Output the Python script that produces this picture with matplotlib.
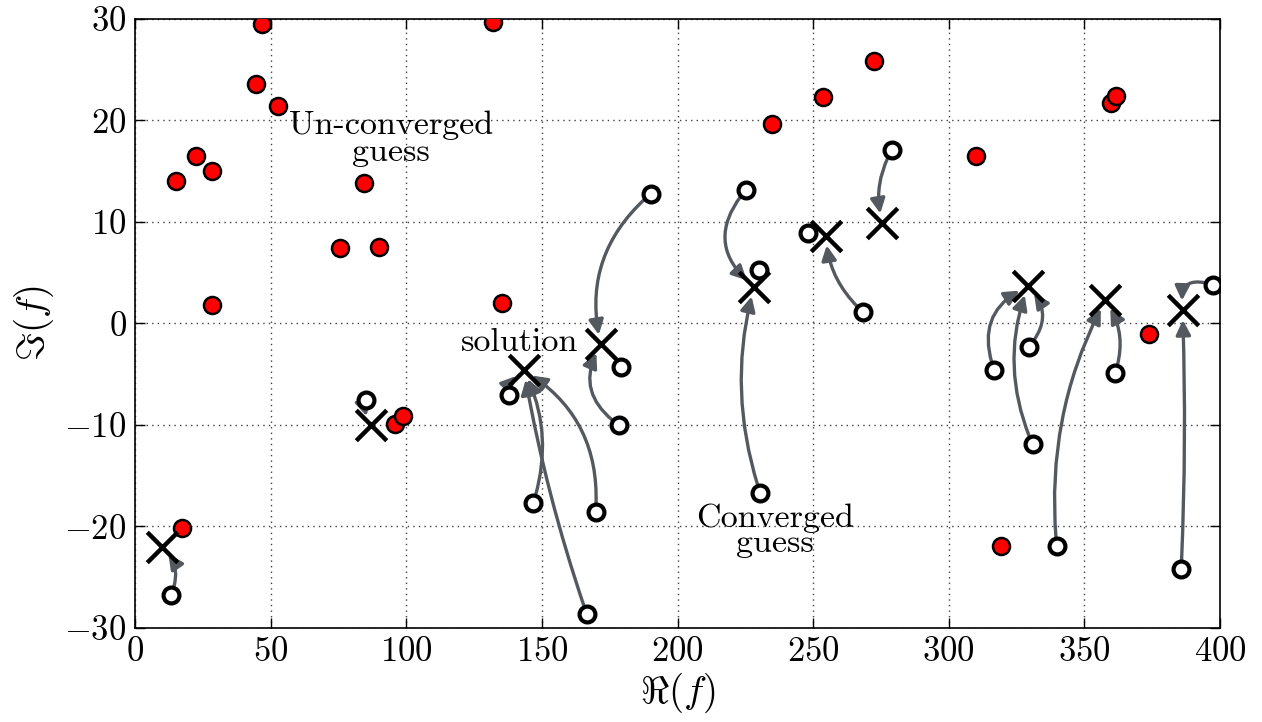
import matplotlib
matplotlib.use('Agg')
import matplotlib.pyplot as plt

plt.rcParams['font.family'] = ['cmr10', 'DejaVu Serif']
plt.rcParams['mathtext.fontset'] = 'cm'
plt.rcParams['axes.formatter.use_mathtext'] = True

# un-converged guesses (red)
unconv_re = [46.7, 44.6, 52.6, 22.5, 28.3, 15.1, 84.4, 75.6, 90.1, 28.5, 132.1, 135.2,
             17.2, 95.9, 98.7, 272.3, 253.6, 234.9, 310.1, 360.0, 361.5, 373.9, 319.1]
unconv_im = [29.5, 23.6, 21.4, 16.5, 15.0, 14.0, 13.8, 7.4, 7.5, 1.8, 29.7, 2.0,
             -20.1, -9.9, -9.1, 25.9, 22.3, 19.7, 16.5, 21.7, 22.4, -1.0, -21.9]

# converged guesses (open circles)
conv_re = [13.2, 85.2, 138.0, 146.8, 166.5, 169.8, 178.3, 190.2, 179.0,
           225.3, 230.5, 230.2, 248.2, 268.5, 279.0,
           316.8, 330.9, 329.5, 339.8, 361.3, 385.7, 397.5]
conv_im = [-26.75, -7.5, -7.0, -17.7, -28.6, -18.6, -10.0, 12.8, -4.25,
           13.2, -16.7, 5.3, 8.95, 1.1, 17.1,
           -4.6, -11.9, -2.3, -21.9, -4.9, -24.2, 3.8]

# solutions
sol_re = [9.95, 86.9, 143.4, 171.7, 228.2, 254.6, 275.5, 329.2, 357.7, 386.2]
sol_im = [-22.0, -10.0, -4.6, -2.05, 3.6, 8.65, 9.9, 3.7, 2.3, 1.3]

# which converged guess goes to which solution, and arc curvature
arrow_from = [0, 1, 2, 3, 4, 5, 6, 7, 9, 10, 13, 14, 15, 16, 17, 18, 19, 20, 21]
arrow_to   = [0, 1, 2, 2, 2, 2, 3, 3, 4, 4, 5, 6, 7, 7, 7, 8, 8, 9, 9]
arrow_rad  = [0.35, 0.2, -0.3, 0.2, -0.04, 0.3, -0.45, 0.3, 0.5, -0.15, -0.2, 0.2,
              -0.45, -0.2, 0.45, -0.15, 0.25, 0.02, 0.8]

fig = plt.figure(figsize=(12.62, 7.22), dpi=100)
ax = fig.add_axes([0.107, 0.1302, 0.8597, 0.8435])

arrow_col = '#545960'
for i, j, r in zip(arrow_from, arrow_to, arrow_rad):
    ax.annotate('', xy=(sol_re[j], sol_im[j]), xytext=(conv_re[i], conv_im[i]),
                arrowprops=dict(arrowstyle='-|>', connectionstyle='arc3,rad=%s' % r,
                                color=arrow_col, lw=2.4, shrinkA=6, shrinkB=7,
                                mutation_scale=22), zorder=2)

ax.scatter(unconv_re, unconv_im, s=150, c='red', edgecolors='k', linewidths=1.8, zorder=3)
ax.scatter(conv_re, conv_im, s=130, c='white', edgecolors='k', linewidths=3, zorder=3)
ax.scatter(sol_re, sol_im, s=480, c='k', marker='x', linewidths=3.2, zorder=4)

ax.text(94.4, 18.2, 'Un-converged\nguess', ha='center', va='center', fontsize=24.5,
        linespacing=0.9)
ax.text(141.9, -1.9, 'solution', ha='center', va='center', fontsize=24.5)
ax.text(236, -20.4, 'Converged\nguess', ha='center', va='center', fontsize=24.5,
        linespacing=0.85)

ax.set_xlim(0, 400)
ax.set_ylim(-30, 30)
ax.set_xticks(range(0, 401, 50))
ax.set_yticks(range(-30, 31, 10))
ax.tick_params(direction='in', top=True, right=True, length=7, width=1,
               labelsize=25, pad=6)
ax.grid(True, linestyle=(0, (1, 3)), color='0.25', linewidth=1)
ax.set_xlabel(r'$\Re(f)$', fontsize=28, labelpad=2)
ax.set_ylabel(r'$\Im(f)$', fontsize=28, labelpad=6)
for s in ax.spines.values():
    s.set_linewidth(1.2)

fig.savefig('out.png', dpi=100)
